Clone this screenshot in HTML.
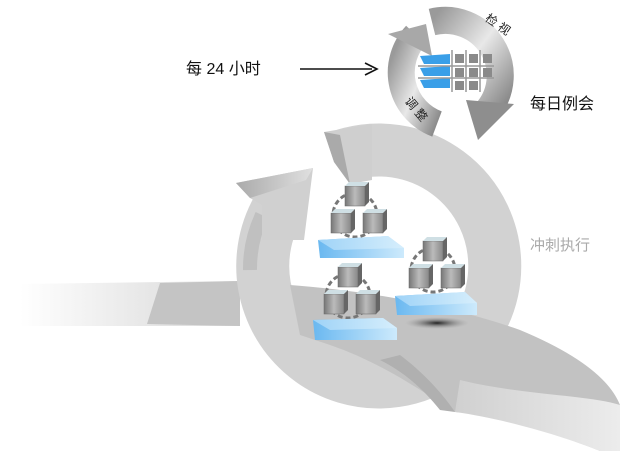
<!DOCTYPE html>
<html><head><meta charset="utf-8"><style>
html,body{margin:0;padding:0;background:#fff}
body{width:624px;height:451px;overflow:hidden;position:relative}
svg{position:absolute;left:0;top:0}
.t{font-family:"Liberation Sans","Noto Sans CJK SC",sans-serif}
</style></head><body>
<svg width="624" height="451" viewBox="0 0 624 451">
<defs>
<linearGradient id="bandL" x1="0" x2="1" y1="0" y2="0">
<stop offset="0" stop-color="#fff"/><stop offset="0.6" stop-color="#e6e6e6"/><stop offset="1" stop-color="#d8d8d8"/></linearGradient>
<linearGradient id="bandR" x1="0" x2="1"><stop offset="0" stop-color="#d0d0d0"/><stop offset="1" stop-color="#ececec"/></linearGradient>
<linearGradient id="blue" x1="0" x2="1"><stop offset="0" stop-color="#9fd3f7"/><stop offset="1" stop-color="#d6eefc"/></linearGradient>
<linearGradient id="blueS" x1="0" x2="1"><stop offset="0" stop-color="#6ab8f0"/><stop offset="1" stop-color="#cdeafc"/></linearGradient>
<linearGradient id="cube" x1="0" x2="1"><stop offset="0" stop-color="#777"/><stop offset="0.5" stop-color="#bbb"/><stop offset="1" stop-color="#888"/></linearGradient>
<linearGradient id="head" x1="0" x2="1"><stop offset="0" stop-color="#aaa"/><stop offset="1" stop-color="#e0e0e0"/></linearGradient>
<radialGradient id="sh"><stop offset="0" stop-color="#222"/><stop offset="1" stop-color="#999" stop-opacity="0"/></radialGradient>
<linearGradient id="sm" x1="0" y1="0" x2="1" y2="1"><stop offset="0" stop-color="#9a9a9a"/><stop offset="0.5" stop-color="#e8e8e8"/><stop offset="1" stop-color="#8a8a8a"/></linearGradient>
<g id="cb"><rect x="-10" y="-9" width="20" height="20" fill="url(#cube)" stroke="#666" stroke-width="0.5"/><polygon points="-10,-9 -6,-13 14,-13 10,-9" fill="#cfdfe4"/><polygon points="10,-9 14,-13 14,7 10,11" fill="#666"/></g>
<g id="grp">
<circle cx="0" cy="20" r="22" fill="none" stroke="#777" stroke-width="3" stroke-dasharray="5 3"/>
<use href="#cb" x="0" y="0"/><use href="#cb" x="-14" y="27"/><use href="#cb" x="18" y="27"/>
</g>
</defs>
<path d="M20,284 L240,281 L240,326 L20,326 Z" fill="url(#bandL)"/>
<path d="M160,283 L240,281 L240,326 L147,324 Z" fill="#c4c4c4"/>
<path d="M345,155 A116,116 0 1 1 282,202" fill="none" stroke="#d2d2d2" stroke-width="53"/>
<path d="M250,270 A126,126 0 0 1 262,215" fill="none" stroke="#c0c0c0" stroke-width="14"/>
<polygon points="236,183 313,168 304,240 262,240 262,205 250,198" fill="#d0d0d0"/>
<polygon points="236,183 313,168 306,180 250,198" fill="url(#head)"/>
<polygon points="324,132 372,124 372,180 350,184 334,162" fill="#cfcfcf"/>
<polygon points="324,132 340,135 350,184 334,162" fill="#aaa"/>
<path d="M290,285 C360,290 450,305 520,330 C580,355 610,380 620,405 L620,451 L600,451 C560,435 500,415 455,412 C420,390 380,362 330,345 L300,335 Z" fill="#c2c2c2"/>
<path d="M460,380 C520,395 590,395 620,405 L620,451 L600,451 C560,435 500,418 455,412 Z" fill="url(#bandR)"/>
<path d="M400,355 C420,370 440,390 455,412 L440,410 C420,385 400,370 380,360 Z" fill="#b0b0b0"/>
<ellipse cx="437" cy="323" rx="32" ry="6" fill="url(#sh)"/>
<use href="#grp" x="355" y="195"/>
<polygon points="318,240 388,236 404,248 404,258 320,258" fill="url(#blueS)"/>
<polygon points="318,240 388,236 404,248 334,250" fill="url(#blue)"/>
<use href="#grp" x="433" y="250"/>
<polygon points="395,296 465,292 477,303 477,315 397,315" fill="url(#blueS)"/>
<polygon points="395,296 465,292 477,303 410,306" fill="url(#blue)"/>
<use href="#grp" x="348" y="276"/>
<polygon points="313,320 383,318 397,328 397,340 315,340" fill="url(#blueS)"/>
<polygon points="313,320 383,318 397,328 330,330" fill="url(#blue)"/>
<path d="M432,22 A55,55 0 0 1 488,110" fill="none" stroke="url(#sm)" stroke-width="27"/>
<polygon points="466,100 514,104 478,140" fill="#8e8e8e"/>
<path d="M437,124 A55,55 0 0 1 416,35" fill="none" stroke="url(#sm)" stroke-width="27"/>
<polygon points="388,34 426,24 432,56" fill="#a8a8a8"/>
<text class="t" x="483" y="24" font-size="12" fill="#222" transform="rotate(35 490 24)">检 视</text>
<text class="t" x="403" y="112" font-size="12" fill="#222" transform="rotate(50 415 108)">调 整</text>
<g fill="#3a9fe8"><polygon points="420,56 450,54 450,64 424,64"/><polygon points="420,68 450,66 450,76 424,76"/><polygon points="420,80 450,78 450,88 424,88"/></g>
<g stroke="#999" stroke-width="1.5"><line x1="452" y1="50" x2="452" y2="92"/><line x1="466" y1="50" x2="466" y2="92"/><line x1="480" y1="50" x2="480" y2="92"/><line x1="418" y1="66" x2="494" y2="66"/><line x1="418" y1="78" x2="494" y2="78"/></g>
<g fill="#8a8a8a"><rect x="455" y="54" width="9" height="9"/><rect x="469" y="54" width="9" height="9"/><rect x="483" y="54" width="9" height="9"/><rect x="455" y="68" width="9" height="9"/><rect x="469" y="68" width="9" height="9"/><rect x="483" y="68" width="9" height="9"/><rect x="455" y="81" width="9" height="9"/><rect x="469" y="81" width="9" height="9"/></g>
<line x1="300" y1="69" x2="372" y2="69" stroke="#111" stroke-width="1.6"/>
<polyline points="365,63 377,69 365,75" fill="none" stroke="#111" stroke-width="1.6"/>
<text class="t" x="186" y="74" font-size="16" fill="#111">每 24 小时</text>
<text class="t" x="530" y="109" font-size="16" fill="#111">每日例会</text>
<text class="t" x="530" y="250" font-size="15" fill="#aaa">冲刺执行</text>
</svg>
</body></html>
